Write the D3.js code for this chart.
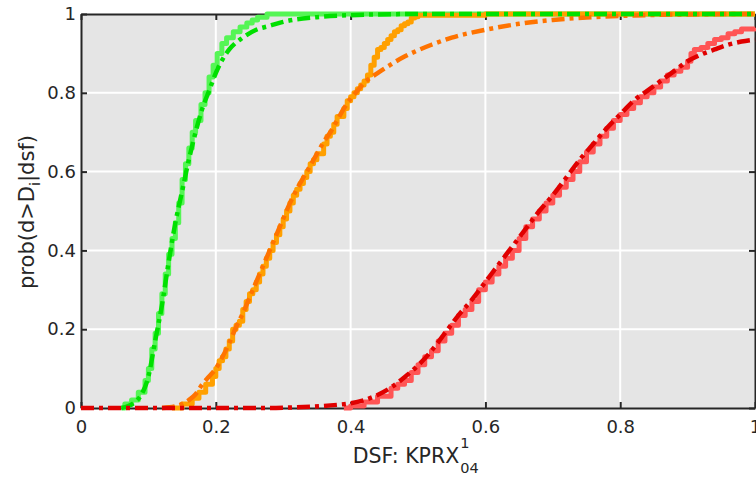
<!DOCTYPE html>
<html><head><meta charset="utf-8">
<script src="https://cdn.jsdelivr.net/npm/d3@7/dist/d3.min.js"></script>
<style>body{margin:0;background:#fff}svg{display:block}</style>
</head><body>
<svg id="c" width="756" height="477"></svg>
<script>
// ---- data ----
const xTicks = [0, 0.2, 0.4, 0.6, 0.8, 1];
const yTicks = [0, 0.2, 0.4, 0.6, 0.8, 1];
const xTickLabels = ["0", "0.2", "0.4", "0.6", "0.8", "1"];
const yTickLabels = ["0", "0.2", "0.4", "0.6", "0.8", "1"];

const greenEmpX = [0.060,0.065,0.075,0.085,0.095,0.100,0.105,0.110,0.115,0.120,0.125,0.130,0.135,0.140,0.145,0.150,0.155,0.160,0.165,0.170,0.178,0.184,0.190,0.196,0.202,0.209,0.216,0.226,0.236,0.246,0.254,0.262,0.276,1.0];
const greenEmpY = [0,0.01,0.02,0.04,0.07,0.10,0.15,0.19,0.24,0.29,0.34,0.39,0.43,0.47,0.52,0.58,0.62,0.66,0.70,0.73,0.77,0.80,0.84,0.87,0.90,0.925,0.94,0.955,0.967,0.977,0.985,0.992,1,1];

const greenFitX = [0.06,0.07,0.08,0.09,0.10,0.11,0.12,0.13,0.14,0.15,0.16,0.17,0.18,0.19,0.20,0.21,0.22,0.24,0.26,0.28,0.30,0.35,0.40,0.50,1.0];
const greenFitY = [0,0.005,0.015,0.035,0.08,0.17,0.26,0.37,0.47,0.55,0.63,0.70,0.76,0.805,0.85,0.885,0.91,0.94,0.96,0.970,0.980,0.992,0.997,1,1];

const orangeEmpX = [0.135,0.15,0.165,0.175,0.185,0.195,0.20,0.205,0.21,0.215,0.22,0.225,0.23,0.235,0.24,0.245,0.25,0.255,0.26,0.265,0.27,0.275,0.28,0.285,0.29,0.295,0.30,0.305,0.31,0.315,0.32,0.325,0.33,0.335,0.34,0.345,0.35,0.36,0.365,0.37,0.375,0.38,0.39,0.395,0.40,0.405,0.41,0.415,0.42,0.425,0.43,0.435,0.44,0.445,0.45,0.455,0.46,0.465,0.47,0.475,0.48,0.485,0.49,0.495,0.50,0.60,1.0];
const orangeEmpY = [0,0.01,0.025,0.04,0.06,0.08,0.10,0.12,0.13,0.15,0.17,0.20,0.21,0.22,0.25,0.27,0.29,0.30,0.32,0.34,0.36,0.38,0.40,0.42,0.44,0.46,0.48,0.50,0.52,0.54,0.555,0.57,0.585,0.60,0.62,0.63,0.645,0.67,0.69,0.70,0.72,0.74,0.76,0.78,0.79,0.80,0.81,0.82,0.83,0.845,0.87,0.89,0.91,0.915,0.925,0.935,0.945,0.955,0.96,0.97,0.975,0.98,0.99,0.993,0.997,1,1];

const orangeFitX = [0.12,0.14,0.16,0.17,0.18,0.19,0.20,0.21,0.22,0.23,0.24,0.25,0.26,0.27,0.28,0.29,0.30,0.31,0.32,0.33,0.34,0.35,0.36,0.37,0.38,0.39,0.40,0.41,0.42,0.44,0.46,0.48,0.50,0.52,0.55,0.60,0.65,0.70,0.75,0.80,0.90,1.0];
const orangeFitY = [0,0.004,0.02,0.035,0.06,0.08,0.10,0.13,0.165,0.205,0.24,0.28,0.32,0.36,0.40,0.44,0.48,0.52,0.555,0.585,0.615,0.645,0.675,0.70,0.73,0.76,0.785,0.805,0.825,0.85,0.872,0.892,0.908,0.922,0.94,0.96,0.975,0.985,0.991,0.995,0.999,1];

const redEmpX = [0.39,0.40,0.42,0.44,0.46,0.47,0.48,0.49,0.50,0.51,0.52,0.53,0.54,0.55,0.56,0.57,0.58,0.59,0.60,0.61,0.62,0.63,0.64,0.65,0.66,0.67,0.68,0.69,0.70,0.71,0.72,0.73,0.74,0.75,0.76,0.77,0.78,0.79,0.80,0.81,0.82,0.83,0.84,0.85,0.86,0.87,0.88,0.89,0.90,0.905,0.91,0.92,0.93,0.94,0.95,0.96,0.97,0.98,1.0];
const redEmpY = [0,0.005,0.015,0.03,0.05,0.06,0.07,0.09,0.11,0.13,0.145,0.17,0.19,0.21,0.235,0.25,0.27,0.30,0.32,0.34,0.36,0.38,0.40,0.43,0.46,0.48,0.50,0.52,0.54,0.56,0.58,0.60,0.625,0.65,0.67,0.69,0.71,0.73,0.745,0.76,0.775,0.79,0.80,0.815,0.83,0.845,0.855,0.865,0.88,0.90,0.91,0.915,0.925,0.935,0.94,0.95,0.955,0.962,0.965];

const redFitX = [0.0,0.28,0.32,0.36,0.38,0.40,0.42,0.44,0.46,0.48,0.50,0.52,0.54,0.56,0.58,0.60,0.62,0.64,0.66,0.68,0.70,0.72,0.74,0.76,0.78,0.80,0.82,0.84,0.86,0.88,0.90,0.92,0.94,0.96,0.98,1.0];
const redFitY = [0,0,0.002,0.005,0.008,0.012,0.02,0.033,0.052,0.078,0.108,0.145,0.19,0.235,0.275,0.32,0.365,0.41,0.455,0.50,0.54,0.585,0.63,0.67,0.71,0.745,0.78,0.805,0.83,0.855,0.88,0.897,0.91,0.922,0.93,0.935];

// ---- layout ----
const W = 756, H = 477;
const m = {left: 81, top: 14, right: 1, bottom: 69};
const pw = W - m.left - m.right, ph = H - m.top - m.bottom;
const svg = d3.select("#c");
const x = d3.scaleLinear().domain([0, 1]).range([m.left, m.left + pw]);
const y = d3.scaleLinear().domain([0, 1]).range([m.top + ph, m.top]);
const font = "'DejaVu Sans', Verdana, sans-serif";
const ink = "#262626";

svg.append("rect").attr("x", m.left).attr("y", m.top).attr("width", pw).attr("height", ph).attr("fill", "#e5e5e5");

// grid
svg.append("g").selectAll("line").data(xTicks.slice(1, -1)).join("line")
  .attr("x1", d => x(d)).attr("x2", d => x(d)).attr("y1", m.top).attr("y2", m.top + ph)
  .attr("stroke", "#fff").attr("stroke-width", 2);
svg.append("g").selectAll("line").data(yTicks.slice(1, -1)).join("line")
  .attr("y1", d => y(d)).attr("y2", d => y(d)).attr("x1", m.left).attr("x2", m.left + pw)
  .attr("stroke", "#fff").attr("stroke-width", 2);

// axes (inward ticks)
const axB = svg.append("g").attr("transform", `translate(0,${m.top + ph})`)
  .call(d3.axisBottom(x).tickValues(xTicks).tickFormat((d, i) => xTickLabels[i]).tickSizeInner(-6).tickSizeOuter(0).tickPadding(12));
const axT = svg.append("g").attr("transform", `translate(0,${m.top})`)
  .call(d3.axisTop(x).tickValues(xTicks).tickFormat("").tickSizeInner(-6).tickSizeOuter(0));
const axL = svg.append("g").attr("transform", `translate(${m.left},0)`)
  .call(d3.axisLeft(y).tickValues(yTicks).tickFormat((d, i) => yTickLabels[i]).tickSizeInner(-6).tickSizeOuter(0).tickPadding(5));
const axR = svg.append("g").attr("transform", `translate(${m.left + pw},0)`)
  .call(d3.axisRight(y).tickValues(yTicks).tickFormat("").tickSizeInner(-6).tickSizeOuter(0));
[axB, axT, axL, axR].forEach(g => {
  g.selectAll(".domain").attr("stroke", ink).attr("stroke-width", 2);
  g.selectAll(".tick line").attr("stroke", ink).attr("stroke-width", 2);
  g.selectAll("text").attr("fill", ink).attr("font-family", font).attr("font-size", 18);
});

// curves
const stepLine = d3.line().x(d => x(d[0])).y(d => y(d[1])).curve(d3.curveStepAfter);
const smoothLine = d3.line().x(d => x(d[0])).y(d => y(d[1])).curve(d3.curveMonotoneX);
const zip = (a, b) => a.map((v, i) => [v, b[i]]);

const emp = [
  [greenEmpX, greenEmpY, "#55f555"],
  [orangeEmpX, orangeEmpY, "#ffa000"],
  [redEmpX, redEmpY, "#ff5555"]
];
const fits = [
  [orangeFitX, orangeFitY, "#ff7300"],
  [greenFitX, greenFitY, "#00e000"],
  [redFitX, redFitY, "#e00000"]
];
emp.forEach(([xs, ys, c]) => {
  svg.append("path").attr("d", stepLine(zip(xs, ys))).attr("fill", "none")
    .attr("stroke", c).attr("stroke-width", 5).attr("stroke-linejoin", "round");
});
fits.forEach(([xs, ys, c]) => {
  svg.append("path").attr("d", smoothLine(zip(xs, ys))).attr("fill", "none")
    .attr("stroke", c).attr("stroke-width", 4.5).attr("stroke-dasharray", "13,5,4,5");
});

// axis labels
const xl = svg.append("text").attr("x", 406).attr("y", 463).attr("text-anchor", "middle")
  .attr("font-family", font).attr("font-size", 20.5).attr("fill", ink).text("DSF: KPRX");
const bb = xl.node().getBBox();
svg.append("text").attr("x", bb.x + bb.width + 1).attr("y", 448)
  .attr("font-family", font).attr("font-size", 14.5).attr("fill", ink).text("1");
svg.append("text").attr("x", bb.x + bb.width + 1).attr("y", 473)
  .attr("font-family", font).attr("font-size", 14.5).attr("fill", ink).text("04");

const yl = svg.append("text").attr("transform", "translate(34,212) rotate(-90)").attr("text-anchor", "middle")
  .attr("font-family", font).attr("font-size", 21).attr("fill", ink);
yl.append("tspan").text("prob(d>D");
yl.append("tspan").attr("font-size", 14.5).attr("dy", 6).text("i");
yl.append("tspan").attr("dy", -6).text("|dsf)");
</script>
</body></html>
